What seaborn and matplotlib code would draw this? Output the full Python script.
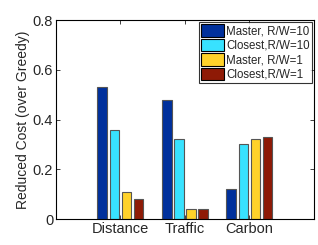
import pandas as pd
import matplotlib
matplotlib.use("Agg")
import matplotlib.pyplot as plt
import seaborn as sns

# --- data ---
categories = ["Distance", "Traffic", "Carbon"]
series = ["Master, R/W=10", "Closest,R/W=10", "Master, R/W=1", "Closest,R/W=1"]
master_rw10 = [0.53, 0.48, 0.12]
closest_rw10 = [0.36, 0.32, 0.30]
master_rw1 = [0.11, 0.04, 0.32]
closest_rw1 = [0.08, 0.04, 0.33]
colors = ["#00309C", "#38E2FF", "#FFD22A", "#8E1A06"]

rows = []
for name, vals in zip(series, [master_rw10, closest_rw10, master_rw1, closest_rw1]):
    for cat, v in zip(categories, vals):
        rows.append({"Metric": cat, "Series": name, "Value": v})
df = pd.DataFrame(rows)

sns.set_style("white")
plt.rcParams["font.family"] = ["Liberation Sans", "DejaVu Sans"]

fig = plt.figure(figsize=(3.18, 2.45), dpi=100)
ax = fig.add_axes([0.176, 0.106, 0.811, 0.812])

sns.barplot(data=df, x="Metric", y="Value", hue="Series", hue_order=series,
            order=categories, palette=colors, saturation=1, width=0.75, gap=0.2,
            edgecolor="#555555", linewidth=0.8, ax=ax)

ax.set_xlim(-1, 3)
ax.set_ylim(0, 0.8)
ax.set_yticks([0, 0.2, 0.4, 0.6, 0.8])
ax.set_yticklabels(["0", "0.2", "0.4", "0.6", "0.8"])
ax.set_xlabel("")
ax.set_ylabel("Reduced Cost (over Greedy)", fontsize=10, labelpad=2)
ax.tick_params(direction="in", length=3, width=0.6, labelsize=10.5, pad=2,
               top=True, right=True, bottom=True, left=True, color="#222222")
for s in ax.spines.values():
    s.set_visible(True)
    s.set_color("black")
    s.set_linewidth(0.8)

leg = ax.legend(loc="upper right", fontsize=8.3, frameon=True, fancybox=False,
                borderaxespad=0.15, handlelength=2.0, handleheight=1.3,
                handletextpad=0.2, labelspacing=0.12, borderpad=0.2)
leg.get_frame().set_edgecolor("black")
leg.get_frame().set_linewidth(0.8)
for h in leg.legend_handles:
    h.set_edgecolor("black")

fig.savefig("out.png", dpi=100)
